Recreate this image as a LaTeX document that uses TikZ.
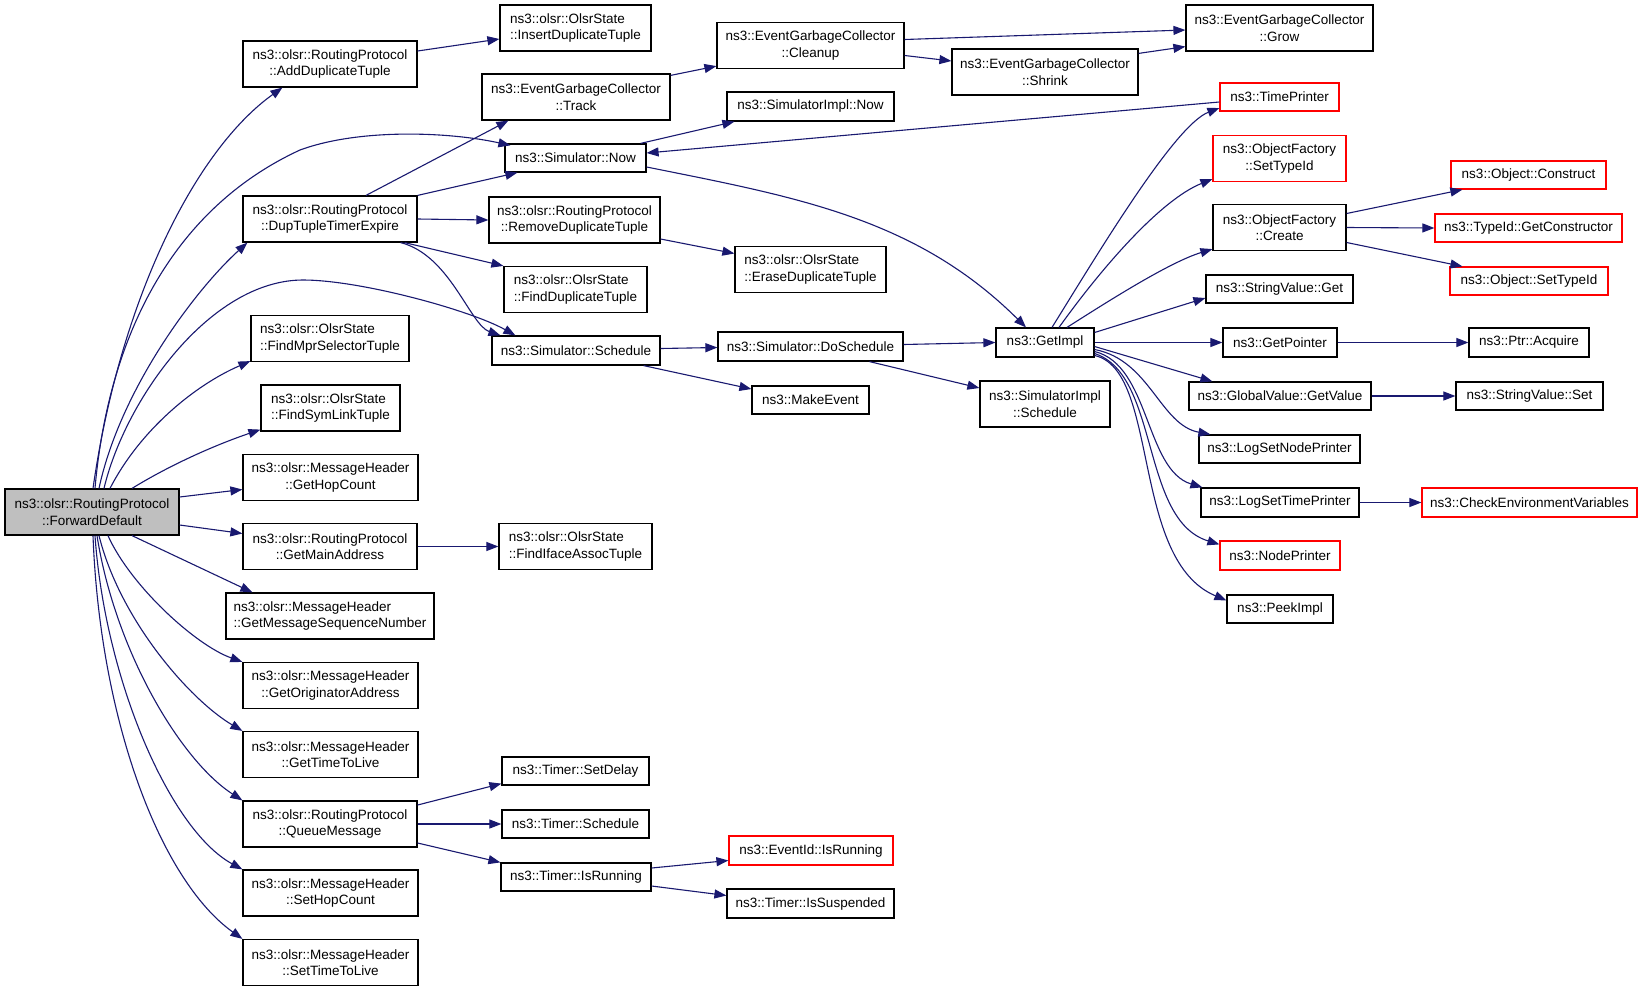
\documentclass[tikz,border=0pt]{standalone}
\usepackage{fontspec}
\setmainfont{Liberation Sans}
\usetikzlibrary{arrows.meta}
\definecolor{edgec}{HTML}{191970}
\definecolor{fdfill}{HTML}{BFBFBF}
\begin{document}
\begin{tikzpicture}[x=1pt,y=-1pt,
  nb/.style={draw=black, line width=1.2pt, inner sep=0pt, fill=white,
    font=\fontsize{13.5}{16.5}\selectfont, align=center, minimum height=29pt},
  nb2/.style={nb, minimum height=46pt},
  lft/.style={align=left},
  rb/.style={nb, draw=red},
  rb2/.style={nb2, draw=red},
  e/.style={draw=edgec, line width=1.1pt, -{Triangle[length=12pt,width=9pt]}}]
\fill[white] (0,0) rectangle (1643,991);
\useasboundingbox (0,0) rectangle (1643,991);

% column 0
\node[nb2, fill=fdfill, minimum width=174pt] (FD) at (92,512) {ns3::olsr::RoutingProtocol\\::ForwardDefault};
% column 1
\node[nb2, minimum width=174pt] (ADT) at (330,64) {ns3::olsr::RoutingProtocol\\::AddDuplicateTuple};
\node[nb2, minimum width=174pt] (DTE) at (330,219) {ns3::olsr::RoutingProtocol\\::DupTupleTimerExpire};
\node[nb2, lft, minimum width=158pt] (FMST) at (330,338.5) {ns3::olsr::OlsrState\\::FindMprSelectorTuple};
\node[nb2, lft, minimum width=139pt] (FSLT) at (330.5,408) {ns3::olsr::OlsrState\\::FindSymLinkTuple};
\node[nb2, minimum width=175pt] (GHC) at (330.5,477.5) {ns3::olsr::MessageHeader\\::GetHopCount};
\node[nb2, minimum width=174pt] (GMA) at (330,546.5) {ns3::olsr::RoutingProtocol\\::GetMainAddress};
\node[nb2, lft, minimum width=208pt] (GMSN) at (330,616) {ns3::olsr::MessageHeader\\::GetMessageSequenceNumber};
\node[nb2, minimum width=175pt] (GOA) at (330.5,685.5) {ns3::olsr::MessageHeader\\::GetOriginatorAddress};
\node[nb2, minimum width=175pt] (GTTL) at (330.5,754.5) {ns3::olsr::MessageHeader\\::GetTimeToLive};
\node[nb2, minimum width=174pt] (QM) at (330,824) {ns3::olsr::RoutingProtocol\\::QueueMessage};
\node[nb2, minimum width=175pt] (SHC) at (330.5,893) {ns3::olsr::MessageHeader\\::SetHopCount};
\node[nb2, minimum width=175pt] (STTL) at (330.5,962.5) {ns3::olsr::MessageHeader\\::SetTimeToLive};
% column 2
\node[nb2, lft, minimum width=151pt] (IDT) at (575.5,28) {ns3::olsr::OlsrState\\::InsertDuplicateTuple};
\node[nb2, minimum width=188pt] (Track) at (576,97) {ns3::EventGarbageCollector\\::Track};
\node[nb, minimum width=141pt, minimum height=28pt] (Now) at (575.5,158) {ns3::Simulator::Now};
\node[nb2, minimum width=171pt] (RDT) at (574.5,220) {ns3::olsr::RoutingProtocol\\::RemoveDuplicateTuple};
\node[nb2, lft, minimum width=143pt] (FDT) at (575.5,289.5) {ns3::olsr::OlsrState\\::FindDuplicateTuple};
\node[nb, minimum width=168pt] (Sched) at (576,350.5) {ns3::Simulator::Schedule};
\node[nb2, lft, minimum width=153pt] (FIAT) at (575.5,546.5) {ns3::olsr::OlsrState\\::FindIfaceAssocTuple};
\node[nb, minimum width=147pt, minimum height=28pt] (TSD) at (575.5,771) {ns3::Timer::SetDelay};
\node[nb, minimum width=147pt, minimum height=28pt] (TS) at (575.5,824) {ns3::Timer::Schedule};
\node[nb, minimum width=150pt, minimum height=28pt] (TIR) at (576,877) {ns3::Timer::IsRunning};
% column 3
\node[nb2, minimum width=187pt] (Cleanup) at (810.5,45.5) {ns3::EventGarbageCollector\\::Cleanup};
\node[nb, minimum width=167pt] (SINow) at (810.5,106.5) {ns3::SimulatorImpl::Now};
\node[nb2, lft, minimum width=151pt] (EDT) at (810.5,269.5) {ns3::olsr::OlsrState\\::EraseDuplicateTuple};
\node[nb, minimum width=185pt] (DoSched) at (810.5,346.5) {ns3::Simulator::DoSchedule};
\node[nb, minimum width=117pt, minimum height=28pt] (ME) at (810.5,400) {ns3::MakeEvent};
\node[rb, minimum width=164pt] (EIR) at (811,850.5) {ns3::EventId::IsRunning};
\node[nb, minimum width=167pt] (TIS) at (810.5,903.5) {ns3::Timer::IsSuspended};
% column 4
\node[nb2, minimum width=186pt] (Shrink) at (1045,72) {ns3::EventGarbageCollector\\::Shrink};
\node[nb, minimum width=98pt] (GetImpl) at (1045,342.5) {ns3::GetImpl};
\node[nb2, minimum width=130pt] (SISched) at (1045,404) {ns3::SimulatorImpl\\::Schedule};
% column 5
\node[nb2, minimum width=187pt] (Grow) at (1279.5,28) {ns3::EventGarbageCollector\\::Grow};
\node[rb, minimum width=119pt, minimum height=28pt] (TP) at (1279.5,97) {ns3::TimePrinter};
\node[rb2, minimum width=133pt] (OFST) at (1279.5,158.5) {ns3::ObjectFactory\\::SetTypeId};
\node[nb2, minimum width=133pt] (OFC) at (1279.5,227.5) {ns3::ObjectFactory\\::Create};
\node[nb, minimum width=147pt, minimum height=28pt] (SVG) at (1279.5,289) {ns3::StringValue::Get};
\node[nb, minimum width=114pt] (GP) at (1280,342.5) {ns3::GetPointer};
\node[nb, minimum width=182pt, minimum height=28pt] (GVGV) at (1280,396) {ns3::GlobalValue::GetValue};
\node[nb, minimum width=161pt, minimum height=28pt] (LSNP) at (1279.5,449) {ns3::LogSetNodePrinter};
\node[nb, minimum width=158pt] (LSTP) at (1280,502.5) {ns3::LogSetTimePrinter};
\node[rb, minimum width=120pt] (NP) at (1280,555.5) {ns3::NodePrinter};
\node[nb, minimum width=106pt, minimum height=28pt] (PI) at (1280,609) {ns3::PeekImpl};
% column 6
\node[rb, minimum width=155pt, minimum height=28pt] (OC) at (1528.5,175) {ns3::Object::Construct};
\node[rb, minimum width=187pt, minimum height=28pt] (TGC) at (1528.5,228) {ns3::TypeId::GetConstructor};
\node[rb, minimum width=158pt, minimum height=28pt] (OST) at (1529,281) {ns3::Object::SetTypeId};
\node[nb, minimum width=120pt] (PA) at (1529,342.5) {ns3::Ptr::Acquire};
\node[nb, minimum width=147pt, minimum height=28pt] (SVS) at (1529.5,396) {ns3::StringValue::Set};
\node[rb, minimum width=215pt] (CEV) at (1529.5,502.5) {ns3::CheckEnvironmentVariables};

% edges from ForwardDefault
\draw[e] ([xshift=1pt]FD.north) .. controls (120,300) and (195,150) .. ([xshift=40pt]ADT.south west);
\draw[e] ([xshift=3pt]FD.north) .. controls (108,340) and (170,210) .. (300,150) .. controls (360,128) and (450,132) .. ([xshift=6pt,yshift=-2pt]Now.north west);
\draw[e] ([xshift=7pt]FD.north) .. controls (120,390) and (195,290) .. ([xshift=5pt]DTE.south west);
\draw[e] ([xshift=12pt]FD.north) .. controls (125,400) and (210,280) .. (303,280) .. controls (360,280) and (470,310) .. ([xshift=24pt]Sched.north west);
\draw[e] ([xshift=18pt]FD.north) .. controls (140,430) and (195,385) .. ([yshift=1pt]FMST.south west);
\draw[e] ([xshift=40pt]FD.north) .. controls (170,465) and (215,445) .. ([yshift=2pt]FSLT.south west);
\draw[e] ([yshift=15pt]FD.east) -- ([yshift=-12pt]GHC.west);
\draw[e] ([yshift=-13pt]FD.east) -- ([yshift=13pt]GMA.west);
\draw[e] ([xshift=40pt]FD.south) -- ([xshift=27pt]GMSN.north west);
\draw[e] ([xshift=16pt]FD.south) .. controls (130,585) and (195,645) .. (GOA.north west);
\draw[e] ([xshift=7pt]FD.south) .. controls (120,620) and (190,700) .. (GTTL.north west);
\draw[e] ([xshift=5pt]FD.south) .. controls (115,650) and (180,760) .. (QM.north west);
\draw[e] ([xshift=3pt]FD.south) .. controls (105,680) and (170,830) .. (SHC.north west);
\draw[e] ([xshift=1pt]FD.south) .. controls (100,720) and (160,880) .. (STTL.north west);

% other edges
\draw[e] ([yshift=13pt]ADT.east) -- ([yshift=-11pt]IDT.west);
\draw[e] ([yshift=-2pt]Track.north east) -- ([yshift=3pt]Cleanup.south west);
\draw[e] ([yshift=6pt]Cleanup.east) -- ([yshift=-2pt]Grow.west);
\draw[e] ([yshift=-10pt]Cleanup.east) -- ([yshift=11pt]Shrink.west);
\draw[e] ([yshift=-5pt]Shrink.north east) -- ([yshift=5pt]Grow.south west);
\draw[e] ([xshift=-6pt]Now.north east) -- ([xshift=8pt]SINow.south west);
\draw[e] ([yshift=-5pt]TP.west) -- ([yshift=5pt]Now.east);
\draw[e] ([yshift=-9pt]Now.east) .. controls (796,197) and (916,218) .. ([xshift=-19pt]GetImpl.north);
\draw[e] ([xshift=36pt]DTE.north) -- ([xshift=27pt]Track.south west);
\draw[e] (DTE.north east) -- ([xshift=13pt]Now.south west);
\draw[e] (DTE.east) -- (RDT.west);
\draw[e] ([xshift=-13pt]DTE.south east) -- (FDT.north west);
\draw[e] ([xshift=-17pt]DTE.south east) .. controls (450,255) and (470,325) .. ([xshift=9pt]Sched.north west);
\draw[e] ([yshift=-19pt]RDT.east) -- ([yshift=16pt]EDT.west);
\draw[e] ([yshift=2pt]Sched.east) -- ([yshift=-1pt]DoSched.west);
\draw[e] ([xshift=-17pt]Sched.south east) -- ([yshift=11pt]ME.west);
\draw[e] ([yshift=2pt]DoSched.east) -- (GetImpl.west);
\draw[e] ([xshift=59pt]DoSched.south) -- ([yshift=16pt]SISched.west);
\draw[e] ([xshift=7pt]GetImpl.north) .. controls (1100,250) and (1175,125) .. ([yshift=-11pt]TP.west);
\draw[e] ([xshift=14pt]GetImpl.north) .. controls (1100,270) and (1160,200) .. ([yshift=3pt]OFST.south west);
\draw[e] ([xshift=22pt]GetImpl.north) .. controls (1110,300) and (1170,262) .. ([yshift=2pt]OFC.south west);
\draw[e] ([yshift=10pt]GetImpl.east) -- ([yshift=-9pt]SVG.west);
\draw[e] (GetImpl.east) -- (GP.west);
\draw[e] ([yshift=-4pt]GetImpl.east) -- ([xshift=24pt]GVGV.north west);
\draw[e] ([yshift=-7pt]GetImpl.east) .. controls (1150,360) and (1160,425) .. ([xshift=12pt]LSNP.north west);
\draw[e] ([yshift=-9pt]GetImpl.east) .. controls (1150,365) and (1145,470) .. ([xshift=2pt]LSTP.north west);
\draw[e] ([yshift=-11pt]GetImpl.east) .. controls (1160,375) and (1140,520) .. ([yshift=-4pt]NP.north west);
\draw[e] ([yshift=-13pt]GetImpl.east) .. controls (1160,370) and (1130,560) .. ([yshift=-6pt]PI.north west);
\draw[e] ([yshift=14pt]OFC.east) -- ([xshift=12pt]OC.south west);
\draw[e] (OFC.east) -- (TGC.west);
\draw[e] ([yshift=-15pt]OFC.east) -- ([xshift=13pt]OST.north west);
\draw[e] (GP.east) -- (PA.west);
\draw[e] (GVGV.east) -- (SVS.west);
\draw[e] (LSTP.east) -- (CEV.west);
\draw[e] (GMA.east) -- (FIAT.west);
\draw[e] ([yshift=19pt]QM.east) -- ([yshift=2pt]TSD.south west);
\draw[e] (QM.east) -- (TS.west);
\draw[e] ([yshift=-19pt]QM.east) -- (TIR.north west);
\draw[e] ([yshift=9pt]TIR.east) -- ([yshift=-10pt]EIR.west);
\draw[e] ([yshift=-9pt]TIR.east) -- ([yshift=8pt]TIS.west);
\end{tikzpicture}
\end{document}
